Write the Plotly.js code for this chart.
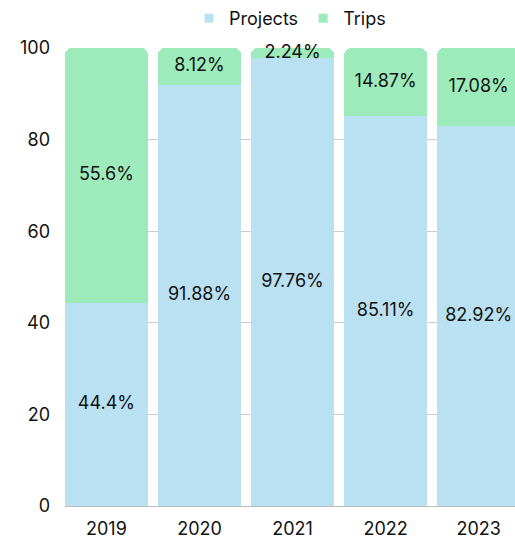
<!DOCTYPE html>
<html>
<head>
<meta charset="utf-8">
<script src="https://cdn.plot.ly/plotly-3.0.1.min.js"></script>
<style>html,body{margin:0;padding:0;overflow:hidden;background:#fff}</style>
</head>
<body>
<div id="chart" style="width:515px;height:538px"></div>
<script>
const years = ['2019', '2020', '2021', '2022', '2023'];
const projects = [44.4, 91.88, 97.76, 85.11, 82.92];
const trips = [55.6, 8.12, 2.24, 14.87, 17.08];
const yTicks = [0, 20, 40, 60, 80, 100];

const FONT = 'Inter, "Noto Sans", sans-serif';
const BLUE = '#b9e1f1';
const GREEN = '#9debbb';
const fmt = v => v + '%';

const projMid = projects.map(v => v / 2);
const tripMid = trips.map((v, i) => projects[i] + v / 2);

const data = [
  {type: 'bar', name: 'Projects', x: years, y: projects, marker: {color: BLUE},
   showlegend: false, hoverinfo: 'none'},
  {type: 'bar', name: 'Trips', x: years, y: trips, marker: {color: GREEN},
   showlegend: false, hoverinfo: 'none'},
  {type: 'scatter', mode: 'text', x: years, y: projMid, text: projects.map(fmt),
   textposition: 'middle center', textfont: {family: FONT, size: 18, color: '#111'},
   showlegend: false, hoverinfo: 'none', cliponaxis: false},
  {type: 'scatter', mode: 'text', x: years, y: tripMid, text: trips.map(fmt),
   textposition: 'middle center', textfont: {family: FONT, size: 18, color: '#111'},
   showlegend: false, hoverinfo: 'none', cliponaxis: false},
  {type: 'scatter', mode: 'markers', name: 'Projects', x: [null], y: [null],
   marker: {symbol: 'square', size: 9, color: BLUE}, showlegend: true},
  {type: 'scatter', mode: 'markers', name: 'Trips', x: [null], y: [null],
   marker: {symbol: 'square', size: 9, color: GREEN}, showlegend: true}
];

const layout = {
  width: 515, height: 538,
  margin: {l: 65, r: 0, t: 48, b: 32},
  barmode: 'stack',
  bargap: 0.107,
  barcornerradius: 7,
  paper_bgcolor: '#fff',
  plot_bgcolor: '#fff',
  font: {family: FONT, size: 18, color: '#111'},
  showlegend: true,
  legend: {
    orientation: 'h', x: 0.5, xanchor: 'center',
    yref: 'container', y: 1, yanchor: 'top',
    font: {family: FONT, size: 18, color: '#111'},
    traceorder: 'normal', itemwidth: 30, tracegroupgap: 0
  },
  xaxis: {
    type: 'category',
    range: [-0.445, 4.39],
    showgrid: false, zeroline: false, showline: false,
    ticks: '', ticklabelstandoff: 10,
    tickfont: {family: FONT, size: 18, color: '#111'}
  },
  yaxis: {
    range: [0, 100],
    tickvals: yTicks,
    ticktext: yTicks.map(String),
    showgrid: true, gridcolor: '#cccccc', gridwidth: 1,
    zeroline: true, zerolinecolor: '#bbbbbb',
    showline: false, ticks: '',
    ticklabelstandoff: 14,
    tickfont: {family: FONT, size: 18, color: '#111'}
  }
};

Plotly.newPlot('chart', data, layout, {displayModeBar: false, staticPlot: true});
</script>
</body>
</html>
